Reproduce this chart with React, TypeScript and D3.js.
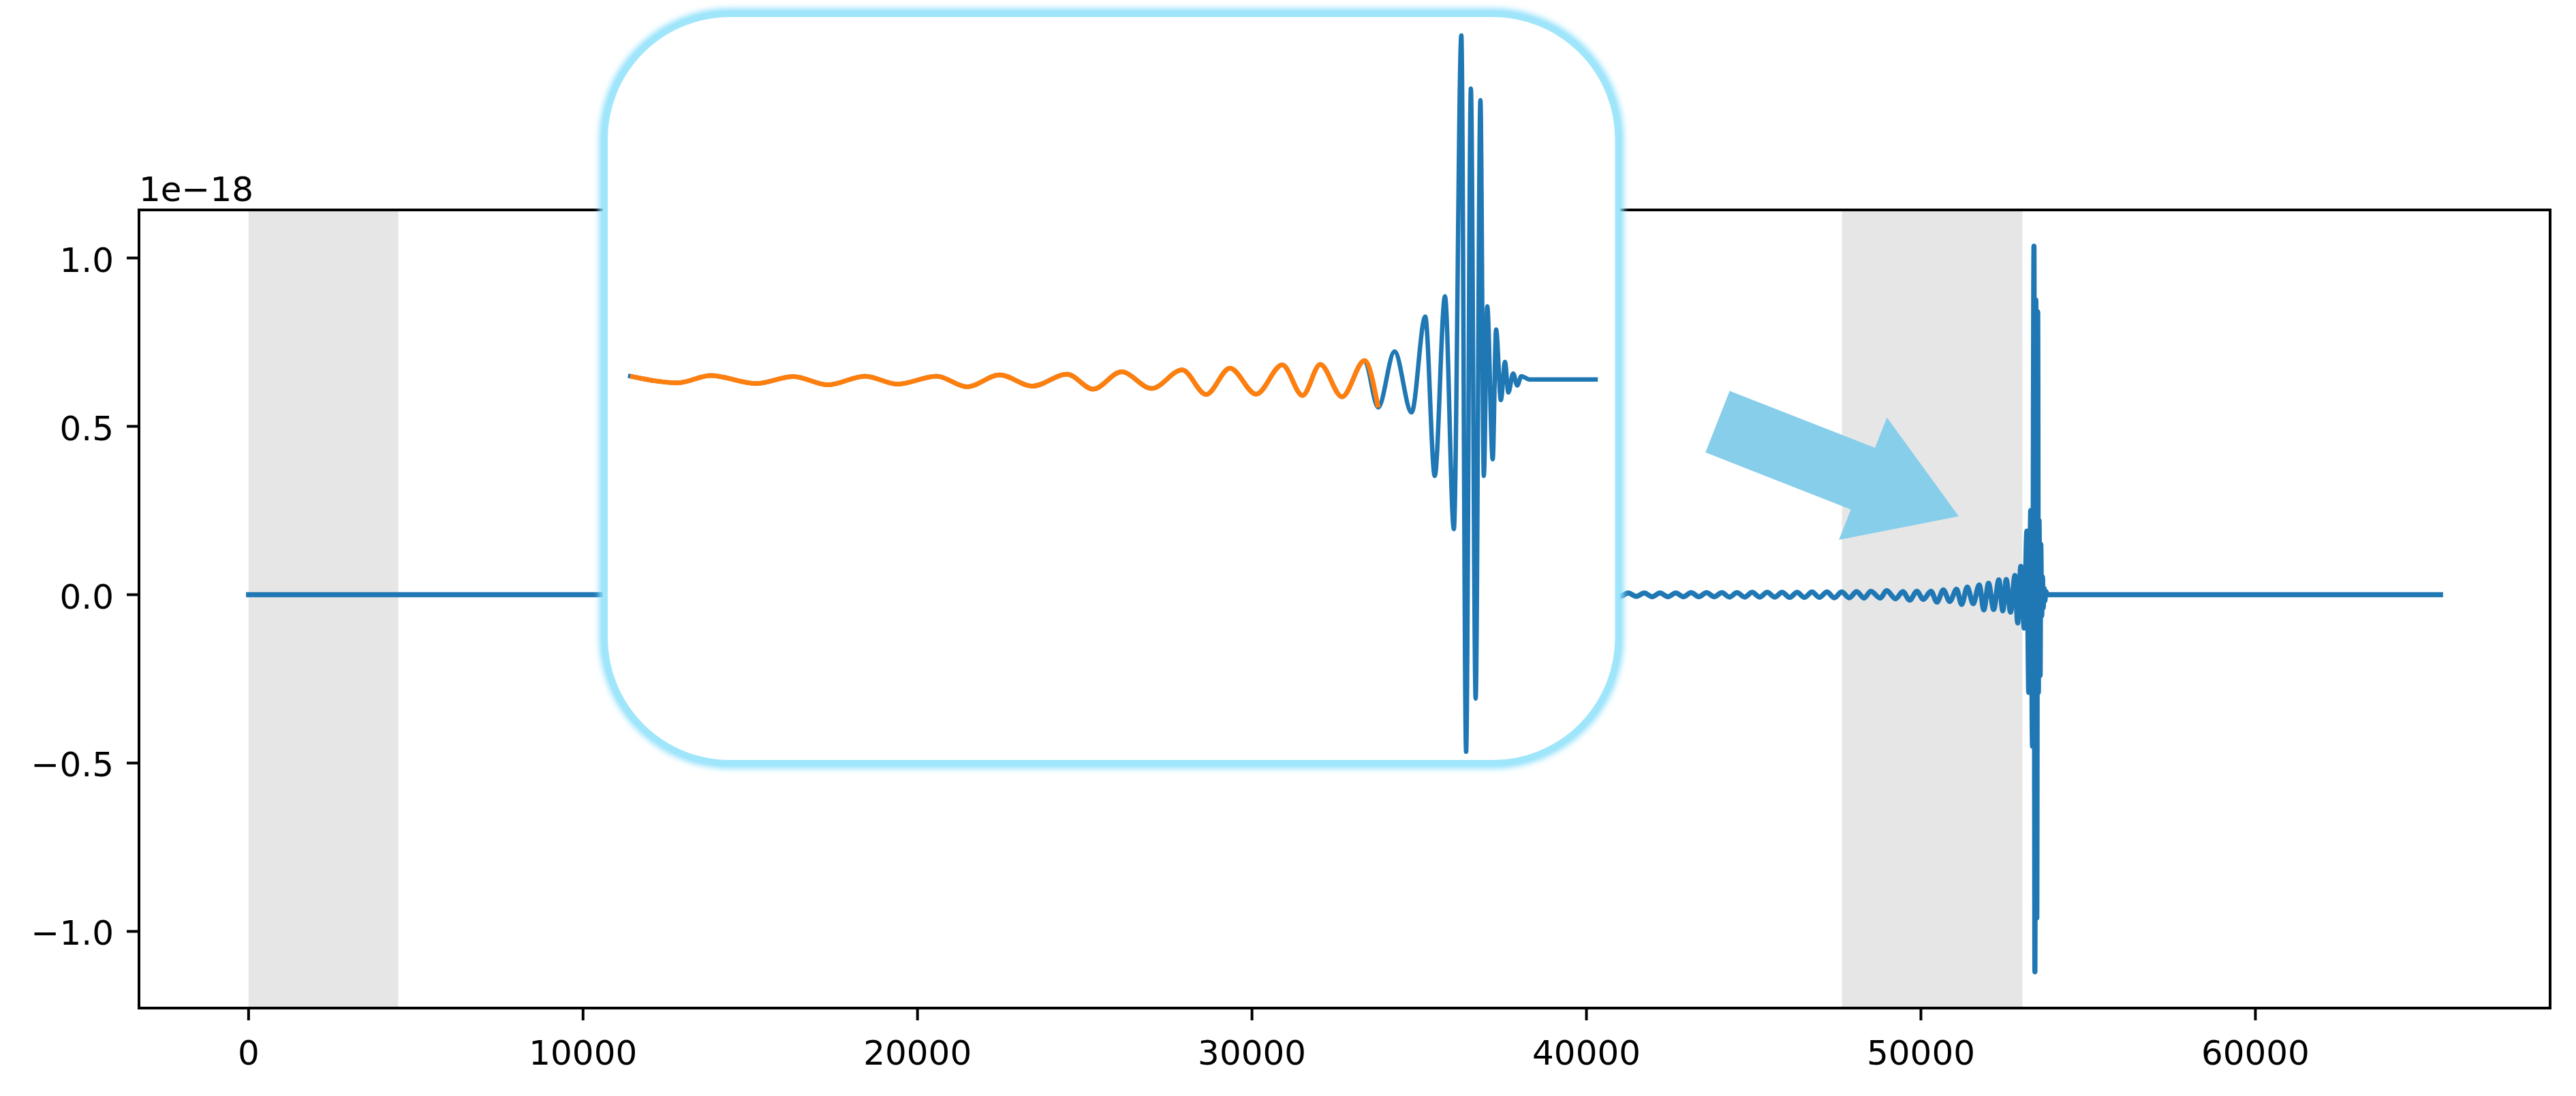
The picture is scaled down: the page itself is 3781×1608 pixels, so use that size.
import React from 'react';
import * as d3 from 'd3';

const W = 3781;
const H = 1608;

// ---------- data ----------
const xTicks = [0, 10000, 20000, 30000, 40000, 50000, 60000];
const yTicks = [-1.0, -0.5, 0.0, 0.5, 1.0];
const yOffsetLabel = '1e\u221218';

// shaded spans (sample index)
const spanStarts = [0, 47640];
const spanEnds = [4475, 53035];

// strain (units of 1e-18) : quiet start
const quietSamples = [0, 40780];
const quietValues = [0, 0];

// early inspiral extrema
const inspiralSamples = [41010, 41250, 41490, 41730, 41965, 42200, 42435, 42670, 42900, 43130, 43360, 43590, 43820, 44048, 44275, 44500, 44730, 44955, 45180, 45405, 45630, 45852, 46075, 46298, 46520, 46742, 46965, 47188, 47410, 47632, 47855, 48078, 48300];
const inspiralValues = [-0.005, 0.005, -0.005, 0.005, -0.006, 0.005, -0.006, 0.005, -0.006, 0.006, -0.006, 0.006, -0.006, 0.006, -0.007, 0.006, -0.007, 0.007, -0.007, 0.007, -0.007, 0.007, -0.008, 0.007, -0.008, 0.008, -0.008, 0.008, -0.009, 0.008, -0.009, 0.009, -0.010];

// late inspiral, merger and ringdown extrema
const chirpSamples = [48502, 48783, 48974, 49242, 49459, 49663, 49880, 50071, 50300, 50479, 50670, 50862, 51066, 51219, 51385, 51563, 51742, 51882, 52022, 52176, 52329, 52448, 52552, 52680, 52812, 52892, 52988, 53088, 53168, 53224, 53284, 53336, 53380, 53408, 53436, 53464, 53492, 53512, 53532, 53564, 53584, 53612, 53636, 53656, 53684, 53708, 53732];
const chirpValues = [0.010, -0.010, 0.012, -0.012, 0.009, -0.016, 0.010, -0.014, 0.010, -0.022, 0.014, -0.020, 0.016, -0.029, 0.023, -0.027, 0.029, -0.045, 0.034, -0.044, 0.044, -0.048, 0.045, -0.052, 0.057, -0.084, 0.084, -0.099, 0.189, -0.29, 0.25, -0.45, 1.035, -1.12, 0.875, -0.96, 0.84, -0.29, 0.22, -0.24, 0.15, -0.062, 0.053, -0.039, 0.018, -0.018, 0.010];

// quiet tail
const tailSamples = [53780, 54168, 65535];
const tailValues = [0, 0, 0];

// inset window and template (orange) end
const insetWindow = [48502, 54168];
const templateEnd = 52892;

// arrow annotation (data coords)
const arrowFrom = [43920, 0.514];
const arrowTo = [51130, 0.233];

// ---------- layout ----------
const AX = { left: 204, right: 3743, top: 308, bottom: 1479 };
const INSET_BOX = { x: 888.5, y: 21.5, w: 1485.5, h: 1097, r: 183 };
const INSET_PLOT = { left: 925, right: 2342, top: 52, bottom: 1103 };
const FONT = 'DejaVu Sans, Liberation Sans, sans-serif';
const BLUE = '#1f77b4';
const ORANGE = '#ff7f0e';

type Pt = { t: number; v: number };

function zip(ts: number[], vs: number[]): Pt[] {
  return ts.map((t, i) => ({ t, v: vs[i] }));
}

function pad(ext: [number, number], f = 0.05): [number, number] {
  const d = ext[1] - ext[0];
  return [ext[0] - d * f, ext[1] + d * f];
}

function fmt(v: number): string {
  const s = v.toFixed(1);
  return s.startsWith('-') ? '\u2212' + s.slice(1) : s;
}

export default function App() {
  const pts: Pt[] = [
    ...zip(quietSamples, quietValues),
    ...zip(inspiralSamples, inspiralValues),
    ...zip(chirpSamples, chirpValues),
    ...zip(tailSamples, tailValues),
  ].sort((a, b) => a.t - b.t);

  const xExt = d3.extent(pts, (d) => d.t) as [number, number];
  const yExt = d3.extent(pts, (d) => d.v) as [number, number];

  const x = d3.scaleLinear().domain(pad(xExt)).range([AX.left, AX.right]);
  const y = d3.scaleLinear().domain(pad(yExt)).range([AX.bottom, AX.top]);

  const mainLine = d3
    .line<Pt>()
    .x((d) => x(d.t))
    .y((d) => y(d.v))
    .curve(d3.curveMonotoneX);

  const insetPts = pts.filter((d) => d.t >= insetWindow[0] && d.t <= insetWindow[1]);
  const templatePts = insetPts.filter((d) => d.t <= templateEnd);
  const iyExt = d3.extent(insetPts, (d) => d.v) as [number, number];
  const xi = d3.scaleLinear().domain(insetWindow).range([INSET_PLOT.left, INSET_PLOT.right]);
  const yi = d3.scaleLinear().domain(iyExt).range([INSET_PLOT.bottom, INSET_PLOT.top]);
  const insetLine = d3
    .line<Pt>()
    .x((d) => xi(d.t))
    .y((d) => yi(d.v))
    .curve(d3.curveMonotoneX);

  // arrow polygon
  const ax0 = x(arrowFrom[0]);
  const ay0 = y(arrowFrom[1]);
  const ax1 = x(arrowTo[0]);
  const ay1 = y(arrowTo[1]);
  const len = Math.hypot(ax1 - ax0, ay1 - ay0);
  const ux = (ax1 - ax0) / len;
  const uy = (ay1 - ay0) / len;
  const nx = -uy;
  const ny = ux;
  const shaftW = 97;
  const headW = 193;
  const headL = 151;
  const bx = ax1 - ux * headL;
  const by = ay1 - uy * headL;
  const arrowPts: [number, number][] = [
    [ax0 + (nx * shaftW) / 2, ay0 + (ny * shaftW) / 2],
    [bx + (nx * shaftW) / 2, by + (ny * shaftW) / 2],
    [bx + (nx * headW) / 2, by + (ny * headW) / 2],
    [ax1, ay1],
    [bx - (nx * headW) / 2, by - (ny * headW) / 2],
    [bx - (nx * shaftW) / 2, by - (ny * shaftW) / 2],
    [ax0 - (nx * shaftW) / 2, ay0 - (ny * shaftW) / 2],
  ];

  const tickLen = 18;

  return (
    <svg
      width={W}
      height={H}
      style={{ position: 'absolute', left: 0, top: 0, background: '#fff' }}
      fontFamily={FONT}
    >
      <defs>
        <filter id="glow" x="-10%" y="-10%" width="120%" height="120%">
          <feGaussianBlur stdDeviation="4" />
        </filter>
        <clipPath id="axclip">
          <rect x={AX.left} y={AX.top} width={AX.right - AX.left} height={AX.bottom - AX.top} />
        </clipPath>
      </defs>
      <rect x={0} y={0} width={W} height={H} fill="#fff" />

      {/* shaded spans */}
      <g clipPath="url(#axclip)">
        {spanStarts.map((s, i) => (
          <rect
            key={i}
            x={x(s)}
            y={AX.top}
            width={x(spanEnds[i]) - x(s)}
            height={AX.bottom - AX.top}
            fill="#e6e6e6"
          />
        ))}
        <path
          d={mainLine(pts) || ''}
          fill="none"
          stroke={BLUE}
          strokeWidth={7.5}
          strokeLinejoin="round"
          strokeLinecap="square"
        />
      </g>

      {/* frame */}
      <rect
        x={AX.left}
        y={AX.top}
        width={AX.right - AX.left}
        height={AX.bottom - AX.top}
        fill="none"
        stroke="#000"
        strokeWidth={4}
      />

      {/* y ticks */}
      {yTicks.map((t) => (
        <g key={'y' + t}>
          <line x1={AX.left - tickLen} x2={AX.left} y1={y(t)} y2={y(t)} stroke="#000" strokeWidth={4} />
          <text x={AX.left - 37} y={y(t) + 20} fontSize={50} textAnchor="end" fill="#000">
            {fmt(t)}
          </text>
        </g>
      ))}
      <text x={AX.left} y={295} fontSize={50} fill="#000">
        {yOffsetLabel}
      </text>

      {/* x ticks */}
      {xTicks.map((t) => (
        <g key={'x' + t}>
          <line x1={x(t)} x2={x(t)} y1={AX.bottom} y2={AX.bottom + tickLen} stroke="#000" strokeWidth={4} />
          <text x={x(t)} y={1562} fontSize={50} textAnchor="middle" fill="#000">
            {String(t)}
          </text>
        </g>
      ))}

      {/* inset */}
      <rect
        x={INSET_BOX.x}
        y={INSET_BOX.y}
        width={INSET_BOX.w}
        height={INSET_BOX.h}
        rx={INSET_BOX.r}
        ry={INSET_BOX.r}
        fill="none"
        stroke="#8fe0fb"
        strokeWidth={18}
        filter="url(#glow)"
      />
      <rect
        x={INSET_BOX.x}
        y={INSET_BOX.y}
        width={INSET_BOX.w}
        height={INSET_BOX.h}
        rx={INSET_BOX.r}
        ry={INSET_BOX.r}
        fill="#fff"
        stroke="#a0e6fb"
        strokeWidth={7}
      />
      <path
        d={insetLine(insetPts) || ''}
        fill="none"
        stroke={BLUE}
        strokeWidth={6.5}
        strokeLinejoin="round"
        strokeLinecap="square"
      />
      <path
        d={insetLine(templatePts) || ''}
        fill="none"
        stroke={ORANGE}
        strokeWidth={7}
        strokeLinejoin="round"
        strokeLinecap="butt"
      />

      {/* arrow */}
      <polygon points={arrowPts.map((p) => p.join(',')).join(' ')} fill="#87ceeb" />
    </svg>
  );
}
